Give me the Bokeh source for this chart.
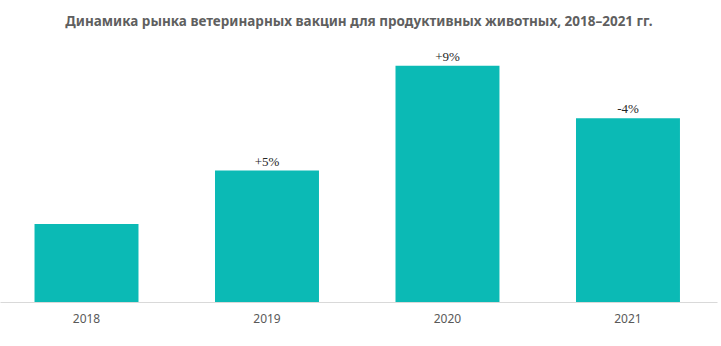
from bokeh.plotting import figure
from bokeh.models import ColumnDataSource, Range1d, FixedTicker, LabelSet
from bokeh.embed import file_html
from bokeh.resources import INLINE

years = ["2018", "2019", "2020", "2021"]
values = [100.0, 104.9, 114.5, 109.7]          # index, 2018 = 100 (axis starts above zero)
changes = ["", "+5%", "+9%", "-4%"]
title_text = "Динамика рынка ветеринарных вакцин для продуктивных животных, 2018–2021 гг."

FONT = "Noto Sans"
x_pos = [i + 0.5 for i in range(len(years))]

src = ColumnDataSource(dict(x=x_pos, top=values, lab=changes, year=years))

p = figure(width=721, height=346, output_backend="svg", toolbar_location=None,
           x_range=Range1d(0.0235, 3.996), y_range=Range1d(92.8, 117.0),
           min_border_left=0, min_border_right=4, min_border_bottom=44, min_border_top=0)

p.title.text = title_text
p.title.align = "center"
p.title.text_font = FONT
p.title.text_font_size = "13.5px"
p.title.text_font_style = "bold"
p.title.text_color = "#5f5f5f"
p.title.standoff = 18
p.title.offset = 0

p.vbar(x="x", top="top", bottom=92.8, width=0.576, source=src,
       fill_color="#0bbab5", line_color=None)

labels = LabelSet(x="x", y="top", text="lab", source=src, text_align="center",
                  text_baseline="bottom", y_offset=2, text_font=FONT,
                  text_font_size="13px", text_color="#262626")
p.add_layout(labels)

p.yaxis.visible = False
p.xgrid.visible = False
p.ygrid.visible = False
p.outline_line_color = None

ax = p.xaxis[0]
ax.ticker = FixedTicker(ticks=x_pos)
ax.major_label_overrides = {x: y for x, y in zip(x_pos, years)}
ax.major_tick_line_color = None
ax.minor_tick_line_color = None
ax.axis_line_color = "#d9d9d9"
ax.axis_line_width = 1
ax.major_label_text_font = FONT
ax.major_label_text_font_size = "12px"
ax.major_label_text_color = "#595959"
ax.major_label_standoff = 5

open("out.html", "w").write(file_html(p, INLINE))
